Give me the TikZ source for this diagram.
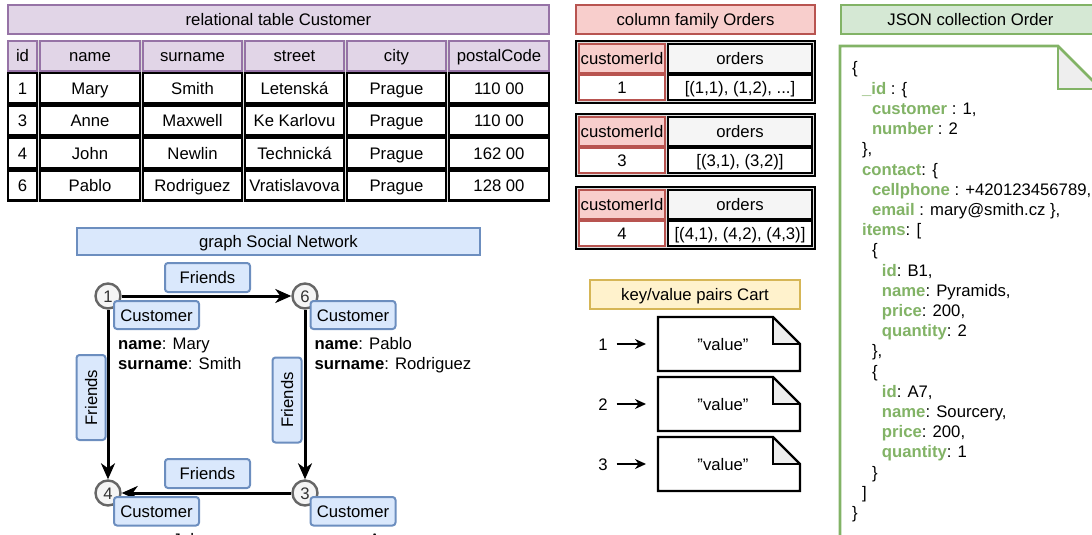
\documentclass[tikz,border=0pt]{standalone}
\usepackage{fontspec}
\setmainfont{Liberation Sans}
\usetikzlibrary{arrows.meta}

\definecolor{purpleFill}{HTML}{E1D5E7}
\definecolor{purpleLine}{HTML}{9673A6}
\definecolor{redFill}{HTML}{F8CECC}
\definecolor{redLine}{HTML}{B85450}
\definecolor{yellowFill}{HTML}{FFF2CC}
\definecolor{yellowLine}{HTML}{D6B656}
\definecolor{greenFill}{HTML}{D5E8D4}
\definecolor{greenLine}{HTML}{82B366}
\definecolor{blueFill}{HTML}{DAE8FC}
\definecolor{blueLine}{HTML}{6C8EBF}
\definecolor{grayFill}{HTML}{F5F5F5}
\definecolor{grayLine}{HTML}{666666}
\definecolor{foldFill}{HTML}{EEEEEE}
\definecolor{gapGray}{HTML}{DDDDDD}
\definecolor{inkGray}{HTML}{333333}

\tikzset{
  txt/.style={font=\fontsize{16.7}{20.2}\selectfont, text=black},
  box/.style={txt, rectangle, inner sep=0pt, outer sep=0pt, text height=12pt, text depth=0pt},
  titlebox/.style={box, line width=2.6pt},
  purplebox/.style={titlebox, draw=purpleLine, fill=purpleFill},
  redbox/.style={titlebox, draw=redLine, fill=redFill},
  yellowbox/.style={titlebox, draw=yellowLine, fill=yellowFill},
  greenbox/.style={titlebox, draw=greenLine, fill=greenFill},
  bluebox/.style={titlebox, draw=blueLine, fill=blueFill},
  purplehead/.style={box, draw=purpleLine, fill=purpleFill, line width=2.4pt},
  plaincell/.style={box, draw=black, fill=white, line width=2.4pt},
  cfframe/.style={box, draw=black, fill=gapGray, line width=2.6pt},
  redhead/.style={box, draw=redLine, fill=redFill, line width=2.2pt},
  redcell/.style={box, draw=redLine, fill=white, line width=2.2pt},
  grayhead/.style={box, draw=black, fill=grayFill, line width=2.2pt},
  thincell/.style={box, draw=black, fill=white, line width=2.2pt},
  circ/.style={circle, draw=grayLine, fill=grayFill, line width=2.4pt,
    minimum size=25pt, inner sep=0pt, txt, text=inkGray, text height=12pt, text depth=0pt},
  lbl/.style={box, draw=blueLine, fill=blueFill, line width=2pt, rounded corners=3pt},
  prop/.style={txt, inner sep=0pt, anchor=base west},
  edge/.style={line width=3pt, -{Stealth[length=16pt, width=14pt, inset=5pt]}},
  karrow/.style={line width=1.7pt, -{Stealth[length=11pt, width=10pt]}},
  docnode/.style={box, minimum width=142pt, minimum height=54pt},
  docline/.style={draw=black, line width=2.4pt},
  noteline/.style={draw=greenLine, line width=2.6pt},
}

% box given by its corners: style, name, x1, y1, x2, y2, text
\newcommand\cellbox[7]{%
  \pgfmathsetmacro\cbw{(#5)-(#3)}%
  \pgfmathsetmacro\cbh{(#6)-(#4)}%
  \node[#1, minimum width=\cbw pt, minimum height=\cbh pt] (#2)
    at ({((#3)+(#5))/2},{((#4)+(#6))/2}) {#7};}

% one row of the relational table: style, name prefix, top edge, six cells
\newcommand\tablerow[9]{%
  \pgfmathsetmacro\trb{(#3)+30}%
  \cellbox{#1}{#2a}{8}{#3}{37}{\trb}{#4}%
  \cellbox{#1}{#2b}{40}{#3}{140}{\trb}{#5}%
  \cellbox{#1}{#2c}{143}{#3}{242}{\trb}{#6}%
  \cellbox{#1}{#2d}{245}{#3}{344}{\trb}{#7}%
  \cellbox{#1}{#2e}{347}{#3}{446}{\trb}{#8}%
  \cellbox{#1}{#2f}{449}{#3}{549}{\trb}{#9}}

% one row of the column family: name prefix, top edge, key, orders
\newcommand\cfblock[4]{%
  \cellbox{cfframe}{#1}{576}{#2}{815}{(#2)+62}{}%
  \cellbox{redhead}{#1k}{579}{(#2)+3}{665}{(#2)+32}{customerId}%
  \cellbox{redcell}{#1v}{579}{(#2)+34}{665}{(#2)+59}{#3}%
  \cellbox{grayhead}{#1o}{668}{(#2)+3}{812}{(#2)+32}{orders}%
  \cellbox{thincell}{#1w}{668}{(#2)+34}{812}{(#2)+59}{#4}}

% folded-corner note around a node: node, fold size, line style
\newcommand\docoutline[3]{%
  \fill[white] (#1.north west) -- ([xshift=-#2]#1.north east) -- ([yshift=-#2]#1.north east)
    -- (#1.south east) -- (#1.south west) -- cycle;
  \fill[foldFill] ([xshift=-#2]#1.north east) -- ([xshift=-#2,yshift=-#2]#1.north east)
    -- ([yshift=-#2]#1.north east) -- cycle;
  \draw[#3] (#1.north west) -- ([xshift=-#2]#1.north east) -- ([yshift=-#2]#1.north east)
    -- (#1.south east) -- (#1.south west) -- cycle;
  \draw[#3] ([xshift=-#2]#1.north east) -- ([xshift=-#2,yshift=-#2]#1.north east)
    -- ([yshift=-#2]#1.north east);}

\newcommand\jk[1]{\textcolor{greenLine}{\textbf{#1}}}
\newcommand\dq{\symbol{34}}

\begin{document}
\begin{tikzpicture}[x=1pt, y=-1pt]
\useasboundingbox (0,0) rectangle (1092,535);
\clip (0,0) rectangle (1092,535);

% ---------- relational table ----------
\cellbox{purplebox}{relTitle}{8}{5}{549}{34}{relational table Customer}
\fill[gapGray] (7,40) rectangle (550,201.5);
\tablerow{purplehead}{h}{41}{id}{name}{surname}{street}{city}{postalCode}
\tablerow{plaincell}{ra}{73}{1}{Mary}{Smith}{Letenská}{Prague}{110 00}
\tablerow{plaincell}{rb}{105.5}{3}{Anne}{Maxwell}{Ke Karlovu}{Prague}{110 00}
\tablerow{plaincell}{rc}{138}{4}{John}{Newlin}{Technická}{Prague}{162 00}
\tablerow{plaincell}{rd}{170.5}{6}{Pablo}{Rodriguez}{Vratislavova}{Prague}{128 00}

% ---------- column family ----------
\cellbox{redbox}{cfTitle}{576}{5}{815}{34}{column family Orders}
\cfblock{cfa}{41}{1}{[(1,1), (1,2), ...]}
\cfblock{cfb}{114}{3}{[(3,1), (3,2)]}
\cfblock{cfc}{187}{4}{[(4,1), (4,2), (4,3)]}

% ---------- key/value pairs ----------
\cellbox{yellowbox}{kvTitle}{590}{280}{800}{309}{key/value pairs Cart}
\foreach \k/\y in {1/344, 2/404, 3/464} {
  \node[docnode] (v\k) at (729,\y) {};
  \docoutline{v\k}{27pt}{docline}
  \node[box] at (v\k) {\hspace*{-12pt}\dq value\dq};
  \node[box] (k\k) at (603,\y) {\k};
  \draw[karrow] ([xshift=9pt]k\k.east) -- ([xshift=-12pt]v\k.west);
}

% ---------- JSON collection ----------
\cellbox{greenbox}{jsTitle}{841}{5}{1100}{34}{JSON collection Order}
\cellbox{box}{jsNote}{840}{46}{1101}{620}{}
\docoutline{jsNote}{43pt}{noteline}
\foreach \lvl/\jtxt [count=\i from 0] in {
  0/{\{},
  1/{\jk{\_id} : \{},
  2/{\jk{customer} : 1,},
  2/{\jk{number} : 2},
  1/{\},},
  1/{\jk{contact}: \{},
  2/{\jk{cellphone} : +420123456789,},
  2/{\jk{email} : mary@smith.cz \},},
  1/{\jk{items}: [},
  2/{\{},
  3/{\jk{id}: B1,},
  3/{\jk{name}: Pyramids,},
  3/{\jk{price}: 200,},
  3/{\jk{quantity}: 2},
  2/{\},},
  2/{\{},
  3/{\jk{id}: A7,},
  3/{\jk{name}: Sourcery,},
  3/{\jk{price}: 200,},
  3/{\jk{quantity}: 1},
  2/{\}},
  1/{]},
  0/{\}}} {
  \node[prop] (j\i) at ({852+9.9*\lvl},{74+20.2*\i}) {\jtxt};
}

% ---------- graph ----------
\cellbox{bluebox}{gTitle}{77}{228}{480}{255}{graph Social Network}

\node[circ] (n1) at (108,296) {1};
\node[circ] (n6) at (305,296) {6};
\node[circ] (n4) at (108,493) {4};
\node[circ] (n3) at (305,493) {3};

\draw[edge] (n1) -- (n6);
\draw[edge] (n1) -- (n4);
\draw[edge] (n6) -- (n3);
\draw[edge] (n3) -- (n4);

\cellbox{lbl}{fTop}{165}{263}{250}{292}{Friends}
\cellbox{lbl}{fBottom}{165}{459}{250}{488}{Friends}
\node[lbl, rotate=90, minimum width=85pt, minimum height=29pt] (fLeft) at (91,397.5) {Friends};
\node[lbl, rotate=90, minimum width=85pt, minimum height=29pt] (fRight) at (287,400) {Friends};

\cellbox{lbl}{c1}{114}{301}{199}{329}{Customer}
\cellbox{lbl}{c6}{310.5}{301}{395.5}{329}{Customer}
\cellbox{lbl}{c4}{114}{497}{199}{525.5}{Customer}
\cellbox{lbl}{c3}{310.5}{497}{395.5}{525.5}{Customer}

\node[prop] (p1a) at (118,349) {\textbf{name}: Mary};
\node[prop] (p1b) at (118,369) {\textbf{surname}: Smith};
\node[prop] (p6a) at (314.5,349) {\textbf{name}: Pablo};
\node[prop] (p6b) at (314.5,369) {\textbf{surname}: Rodriguez};
\node[prop] (p4a) at (118,545.5) {\textbf{name}: John};
\node[prop] (p4b) at (118,565.5) {\textbf{surname}: Newlin};
\node[prop] (p3a) at (314.5,545.5) {\textbf{name}: Anne};
\node[prop] (p3b) at (314.5,565.5) {\textbf{surname}: Maxwell};
\end{tikzpicture}
\end{document}
